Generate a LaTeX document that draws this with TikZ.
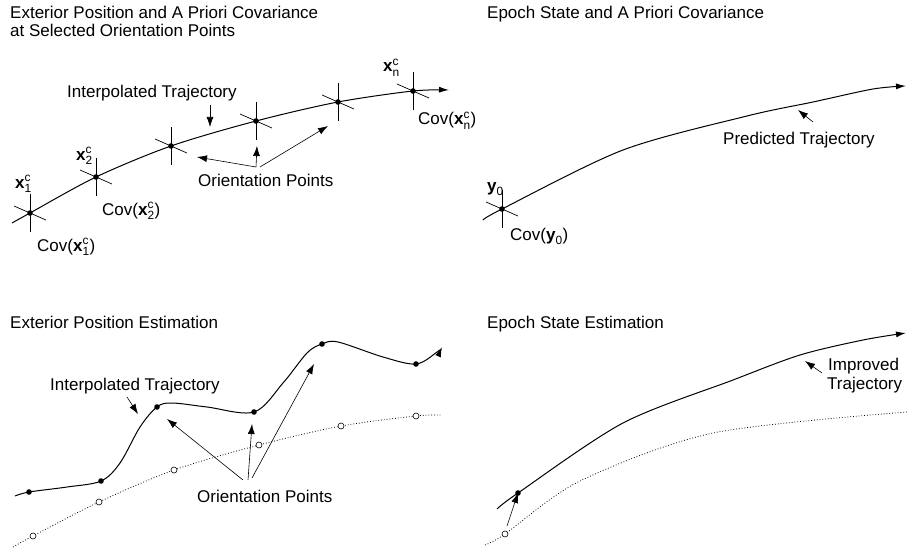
\documentclass[tikz,border=0pt]{standalone}
\usepackage{fontspec}
\setmainfont{Liberation Sans}
\usepackage{amsmath}
\usetikzlibrary{arrows.meta}
\begin{document}
\begin{tikzpicture}[x=1pt,y=1pt,
  every node/.style={font=\fontsize{17}{19}\selectfont, inner sep=0pt, anchor=base west},
  traj/.style={line width=1pt},
  trajarrow/.style={traj, -{Latex[length=10pt,width=6pt]}},
  pointer/.style={line width=0.6pt, -{Latex[length=10pt,width=7pt]}},
  dotline/.style={line width=0.8pt, dash pattern=on 0.8pt off 2pt},
  tickline/.style={line width=0.7pt},
  hollowdot/.style={draw=black, fill=white, line width=0.6pt},
  covcross/.pic={
    \draw[tickline] (0,-19)--(0,19);
    \draw[tickline] (-16,7)--(16,-7);
    \fill (0,0) circle (2.8);
  }
]
\useasboundingbox (0,0) rectangle (907,550);

% ---------------- titles
\node (t1a) at (10,531) {Exterior Position and A Priori Covariance};
\node (t1b) at (10,513) {at Selected Orientation Points};
\node (t2) at (487,531) {Epoch State and A Priori Covariance};
\node (t3) at (10,222) {Exterior Position Estimation};
\node (t4) at (487,222) {Epoch State Estimation};

% ---------------- top left
\coordinate (s1) at (12,327);
\coordinate (p1) at (30,337);
\coordinate (p2) at (96,373);
\coordinate (p3) at (171,404);
\coordinate (p4) at (256,429);
\coordinate (p5) at (338,448);
\coordinate (pn) at (413,459);
\coordinate (e1) at (449,460);
\draw[trajarrow] plot[smooth] coordinates {(s1) (p1) (p2) (p3) (p4) (p5) (pn) (e1)};
\foreach \p in {p1,p2,p3,p4,p5,pn} \pic at (\p) {covcross};

\node (lx1) at (15,362) {$\textbf{x}^{\text{c}}_{\text{1}}$};
\node (lx2) at (76,390) {$\textbf{x}^{\text{c}}_{\text{2}}$};
\node (lxn) at (383,478) {$\textbf{x}^{\text{c}}_{\text{n}}$};
\node (lc1) at (37,299) {Cov($\textbf{x}^{\text{c}}_{\text{1}}$)};
\node (lc2) at (102,335) {Cov($\textbf{x}^{\text{c}}_{\text{2}}$)};
\node (lcn) at (418,425) {Cov($\textbf{x}^{\text{c}}_{\text{n}}$)};

\node (it1) at (67,452) {Interpolated Trajectory};
\coordinate (it1a) at (210,445);
\coordinate (it1b) at (210,423);
\draw[pointer] (it1a) -- (it1b);

\node (op1) at (198,363) {Orientation Points};
\coordinate (o1a) at (256,383);
\coordinate (o1b) at (260,383);
\coordinate (o1t1) at (197,393);
\coordinate (o1t2) at (257,404);
\coordinate (o1t3) at (328,424);
\draw[pointer] (o1a) -- (o1t1);
\draw[pointer] (o1a) -- (o1t2);
\draw[pointer] (o1b) -- (o1t3);

% ---------------- top right
\coordinate (ys) at (483,330);
\coordinate (y0) at (502,341);
\coordinate (q1) at (623,400);
\coordinate (q2) at (747,434);
\coordinate (q3) at (813,448);
\coordinate (q4) at (873,461);
\coordinate (q5) at (906,464);
\draw[trajarrow] plot[smooth] coordinates {(ys) (y0) (q1) (q2) (q3) (q4) (q5)};
\pic at (y0) {covcross};
\node (ly0) at (487,359) {$\textbf{y}_{\text{0}}$};
\node (lcy) at (510,310) {Cov($\textbf{y}_{\text{0}}$)};
\node (pt) at (723,405) {Predicted Trajectory};
\coordinate (pta) at (813,428);
\coordinate (ptb) at (798,440);
\draw[pointer] (pta) -- (ptb);

% ---------------- bottom left
\coordinate (bs) at (15,54);
\coordinate (bA) at (29,58);
\coordinate (bB) at (101,69);
\coordinate (bC) at (157,143);
\coordinate (bD) at (254,138);
\coordinate (bE) at (322,206);
\coordinate (bF) at (416,186);
\coordinate (be) at (442,203);
\draw[trajarrow] plot[smooth, tension=0.55] coordinates {(bs) (bA) (67,63) (bB) (120,87) (140,123) (bC) (172,147) (207,143) (bD) (283,167) (307,197) (bE) (338,208) (383,193) (bF) (437,198) (be)};

\coordinate (ba) at (33,14);
\coordinate (bb) at (99,48);
\coordinate (bc) at (174,80);
\coordinate (bd) at (259,105);
\coordinate (bee) at (341,124);
\coordinate (bf) at (416,134);
\draw[dotline] plot[smooth] coordinates {(13,3) (ba) (bb) (bc) (bd) (bee) (bf) (442,135)};

\foreach \p in {bA,bB,bC,bD,bE,bF} \fill (\p) circle (2.8);
\foreach \p in {ba,bb,bc,bd,bee,bf} \draw[hollowdot] (\p) circle (3);

\node (it2) at (50,160) {Interpolated Trajectory};
\coordinate (it2a) at (127,153);
\coordinate (it2b) at (138,136);
\draw[pointer] (it2a) -- (it2b);

\node (op2) at (197,48) {Orientation Points};
\coordinate (o2a) at (243,70);
\coordinate (o2b) at (248,70);
\coordinate (o2c) at (252,72);
\coordinate (o2t1) at (167,131);
\coordinate (o2t2) at (252,126);
\coordinate (o2t3) at (314,186);
\draw[pointer] (o2a) -- (o2t1);
\draw[pointer] (o2b) -- (o2t2);
\draw[pointer] (o2c) -- (o2t3);

% ---------------- bottom right
\coordinate (rs) at (497,41);
\coordinate (r0) at (518,57);
\coordinate (re) at (906,217);
\draw[trajarrow] plot[smooth] coordinates {(rs) (r0) (623,127) (733,170) (800,195) (863,210) (re)};
\fill (r0) circle (2.8);

\coordinate (rd0) at (505,16);
\coordinate (rdp) at (507,24);
\draw[dotline] plot[smooth] coordinates {(485,5) (rd0) (580,69) (713,117) (907,138)};
\draw[hollowdot] (rd0) circle (3);
\draw[pointer] (rdp) -- (r0);

\node (imp1) at (828,180) {Improved};
\node (imp2) at (827,161) {Trajectory};
\coordinate (ima) at (822,177);
\coordinate (imb) at (805,189);
\draw[pointer] (ima) -- (imb);

\end{tikzpicture}
\end{document}
